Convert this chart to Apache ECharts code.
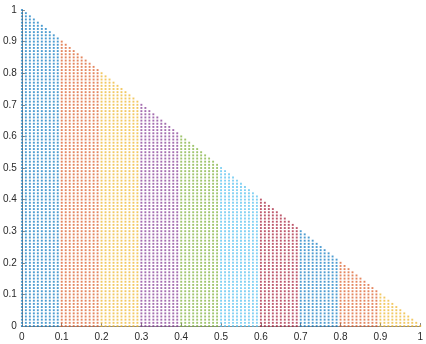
<!DOCTYPE html>
<html>
<head>
<meta charset="utf-8">
<script src="https://cdn.jsdelivr.net/npm/echarts@6/dist/echarts.min.js"></script>
<style>
  html, body { margin: 0; padding: 0; background: #fff; }
  #chart { width: 426px; height: 344px; }
</style>
</head>
<body>
<div id="chart"></div>
<script>
// Lattice of points (x, y) with x + y <= 1, sampled every 0.01 on both axes,
// coloured in vertical bands of width 0.1.
const gridStep = 0.01;
const gridCount = 100;                 // number of steps from 0 to 1
const bandEdges = [0, 0.1, 0.2, 0.3, 0.4, 0.5, 0.6, 0.7, 0.8, 0.9, 1.0];
const bandColors = ['#0072BD', '#D95319', '#EDB120', '#7E2F8E', '#77AC30',
                    '#4DBEEE', '#A2142F', '#0072BD', '#D95319', '#EDB120'];
const xTicks = [0, 0.1, 0.2, 0.3, 0.4, 0.5, 0.6, 0.7, 0.8, 0.9, 1];
const yTicks = [0, 0.1, 0.2, 0.3, 0.4, 0.5, 0.6, 0.7, 0.8, 0.9, 1];

// Group lattice points by band
const bandPoints = bandColors.map(() => []);
for (let i = 0; i <= gridCount; i++) {
  for (let j = 0; i + j <= gridCount; j++) {
    const x = +(i * gridStep).toFixed(2);
    const y = +(j * gridStep).toFixed(2);
    let b = Math.floor(i / 10);
    if (b >= bandColors.length) b = bandColors.length - 1;
    bandPoints[b].push([x, y]);
  }
}

const series = bandPoints.map((pts, k) => ({
  type: 'scatter',
  data: pts,
  symbol: 'rect',
  symbolSize: 1.9,
  itemStyle: { color: bandColors[k], opacity: 0.7 },
  silent: true,
  large: false
}));

const axisCommon = {
  type: 'value',
  min: 0,
  max: 1,
  interval: 0.1,
  splitLine: { show: false },
  axisLine: { show: true, lineStyle: { color: '#8a8a8a', width: 1 } },
  axisTick: { show: true, inside: true, length: 3, lineStyle: { color: '#8a8a8a' } },
  axisLabel: {
    color: '#2a2a2a',
    fontFamily: 'Liberation Sans, Arial, sans-serif',
    fontSize: 10,
    formatter: v => String(+v.toFixed(1))
  }
};

const chart = echarts.init(document.getElementById('chart'), null, { renderer: 'canvas' });
chart.setOption({
  animation: false,
  backgroundColor: '#ffffff',
  grid: { left: 20, right: 2, top: 10, bottom: 18, containLabel: false },
  xAxis: Object.assign({}, axisCommon, {
    axisLabel: Object.assign({}, axisCommon.axisLabel, { margin: 6 })
  }),
  yAxis: Object.assign({}, axisCommon, {
    axisLabel: Object.assign({}, axisCommon.axisLabel, { margin: 5 })
  }),
  series: series
});
</script>
</body>
</html>
